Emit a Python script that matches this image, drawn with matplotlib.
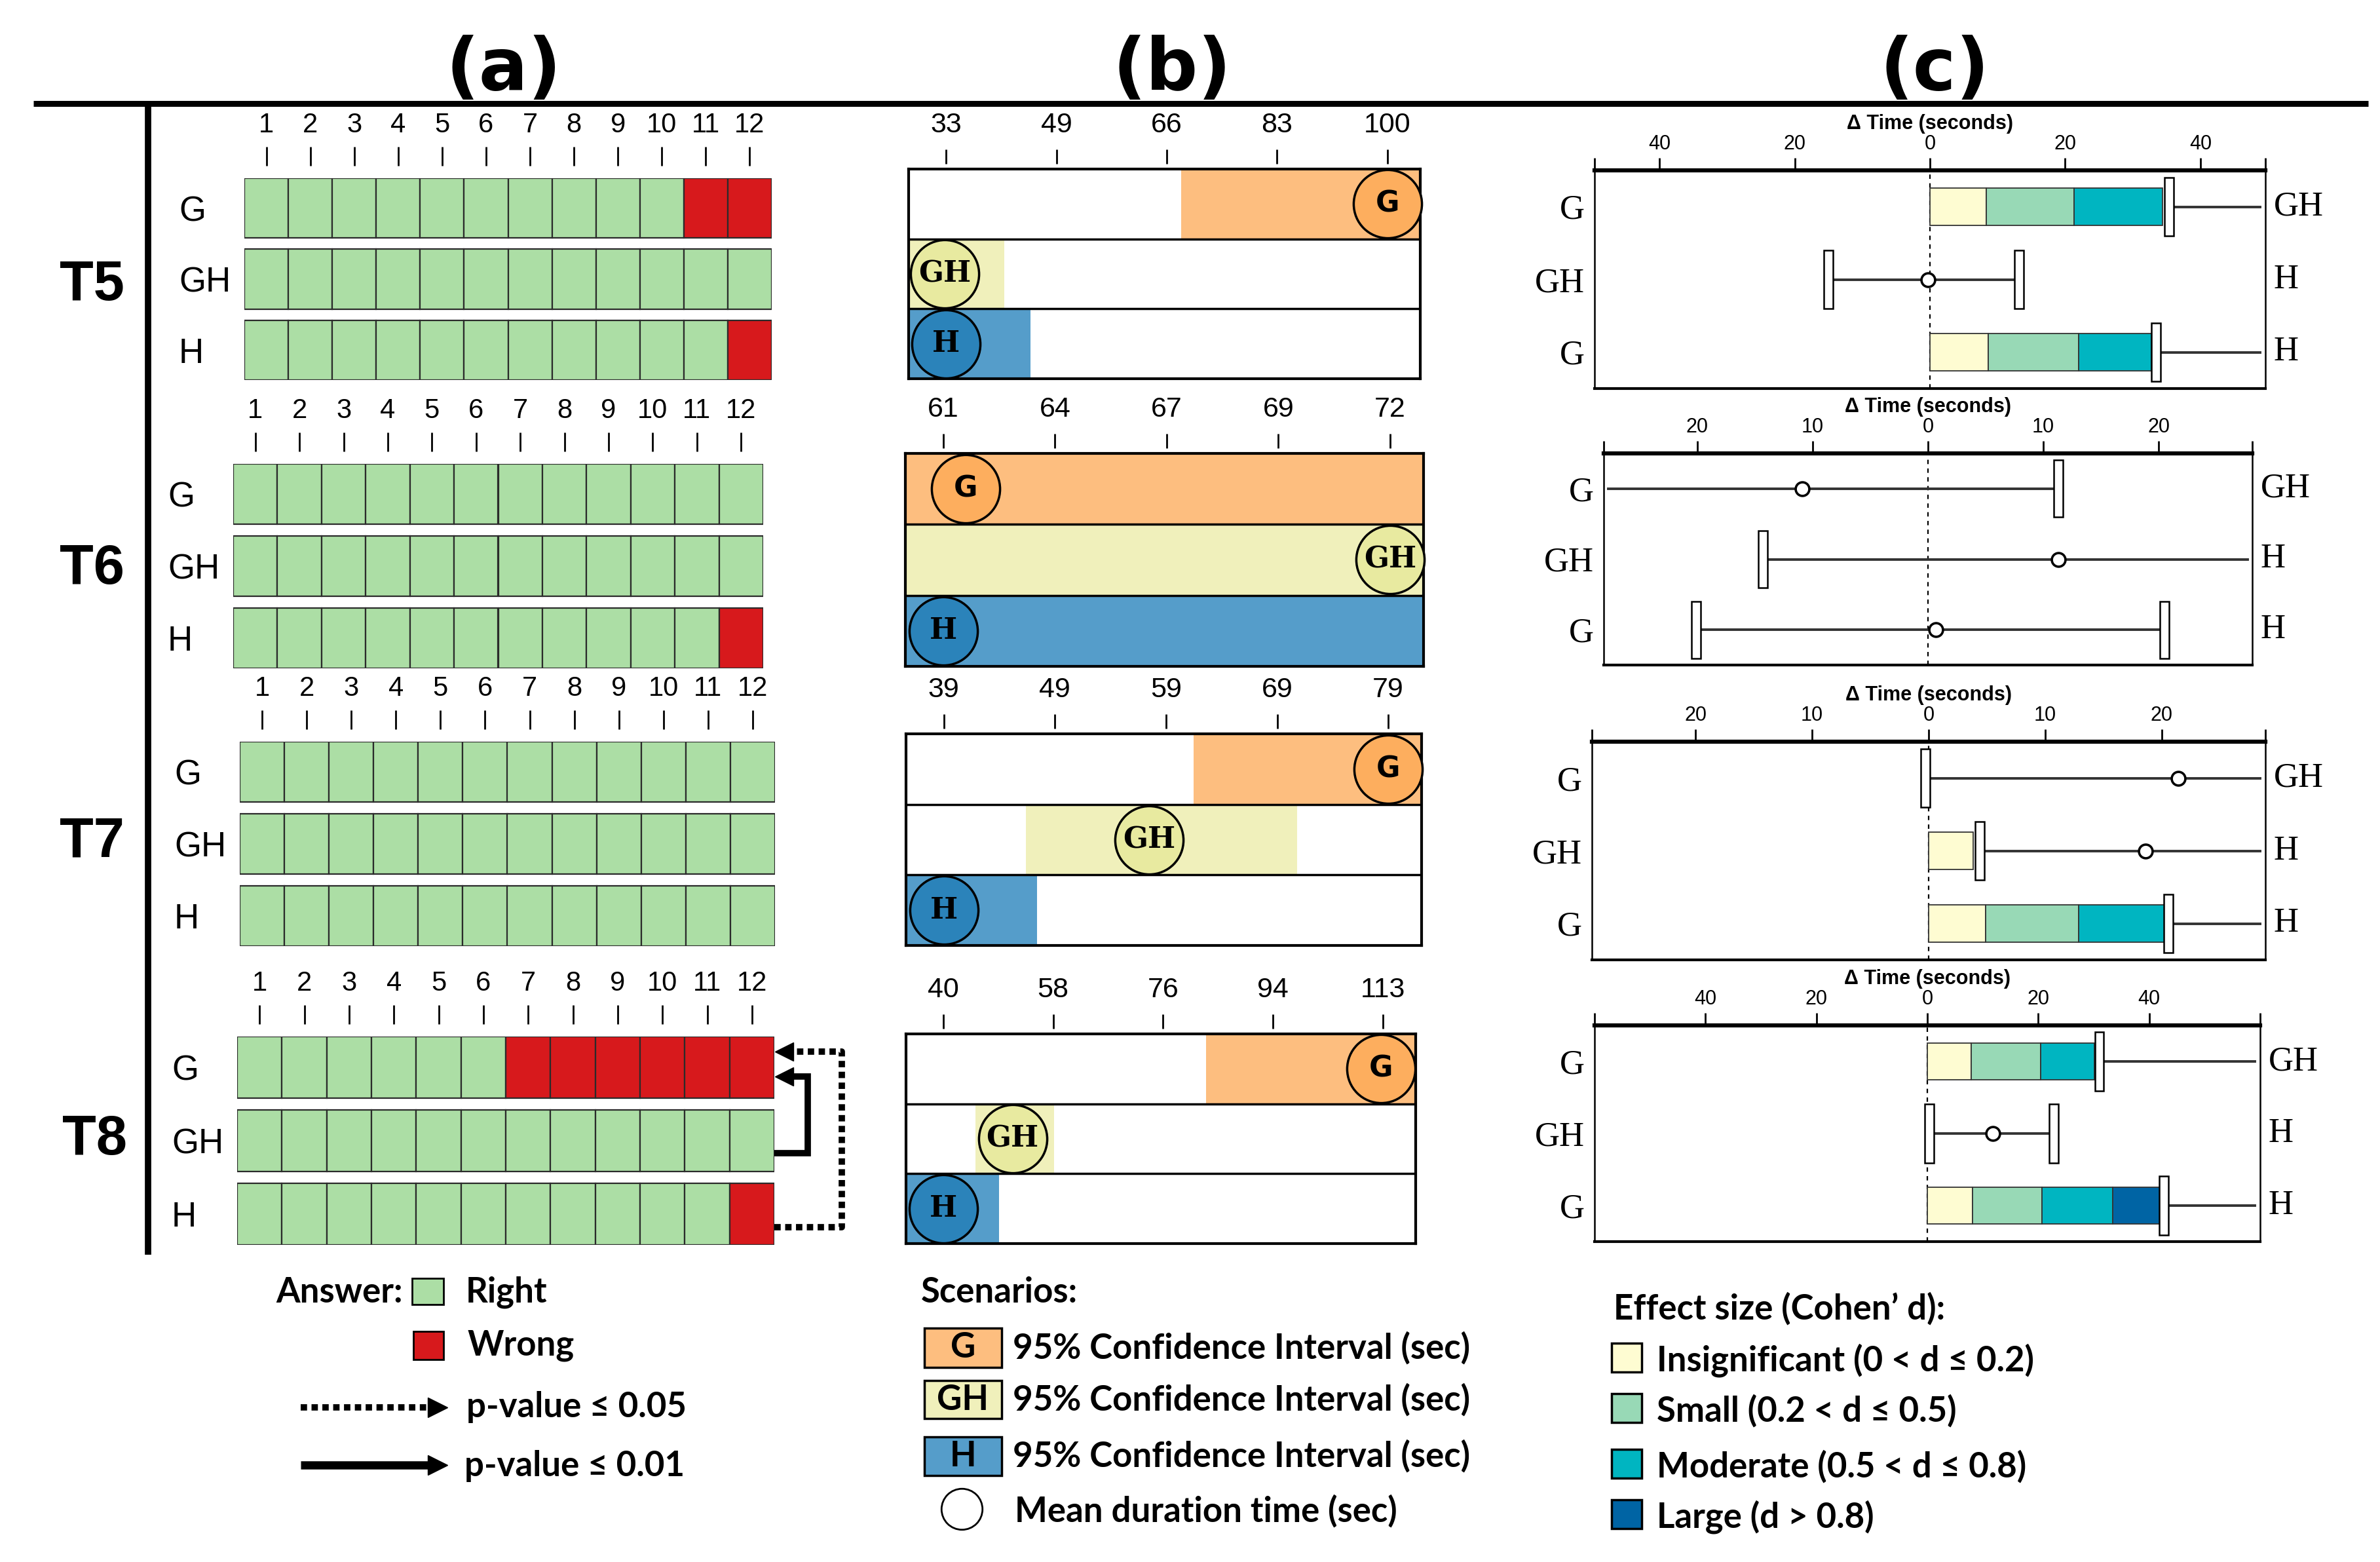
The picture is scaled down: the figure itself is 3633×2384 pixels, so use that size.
import numpy as np
import matplotlib
matplotlib.use('Agg')
import matplotlib.pyplot as plt
from matplotlib.patches import Rectangle

plt.rcParams['font.family'] = ['Liberation Sans', 'DejaVu Sans']

W, H = 3633, 2384
DPI = 100

# ---------------- data ----------------
tasks = ['T5', 'T6', 'T7', 'T8']
scenarios = ['G', 'GH', 'H']
questions = list(range(1, 13))

# (a) questions answered wrong, per scenario row
wrong_t5 = [[11, 12], [], [12]]
wrong_t6 = [[], [], [12]]
wrong_t7 = [[], [], []]
wrong_t8 = [[7, 8, 9, 10, 11, 12], [], [12]]

# (b) duration: 95% CI and mean (sec), per scenario row
b_tick_lo = [33, 61, 39, 40]
b_tick_hi = [100, 72, 79, 113]
b_tick_labels = [['33', '49', '66', '83', '100'],
                 ['61', '64', '67', '69', '72'],
                 ['39', '49', '59', '69', '79'],
                 ['40', '58', '76', '94', '113']]
ci_low_t5 = [68.7, 25.0, 25.0]
ci_high_t5 = [106.0, 41.8, 45.8]
mean_time_t5 = [100.0, 32.8, 33.0]
ci_low_t6 = [59.5, 59.5, 59.5]
ci_high_t6 = [73.5, 73.5, 73.5]
mean_time_t6 = [61.55, 72.0, 61.0]
ci_low_t7 = [61.5, 46.4, 35.0]
ci_high_t7 = [83.0, 70.8, 47.4]
mean_time_t7 = [79.0, 57.5, 39.0]
ci_low_t8 = [83.6, 45.3, 33.0]
ci_high_t8 = [119.0, 58.4, 49.3]
mean_time_t8 = [112.7, 51.5, 40.0]

# (c) pairwise time difference (sec): effect-size segment ends, CI bounds, mean
c_lim = [49.6, 28.1, 28.9, 60.0]
c_ticks = [[-40, -20, 0, 20, 40], [-20, -10, 0, 10, 20],
           [-20, -10, 0, 10, 20], [-40, -20, 0, 20, 40]]
pair_left = ['G', 'GH', 'G']
pair_right = ['GH', 'H', 'H']
effect_t5 = [[8.3, 21.3, 34.4], [], [8.6, 22.0, 32.7]]
diff_low_t5 = [35.4, -15.0, 33.4]
diff_high_t5 = [np.inf, 13.2, np.inf]
diff_mean_t5 = [np.nan, -0.3, np.nan]
effect_t6 = [[], [], []]
diff_low_t6 = [-np.inf, -14.3, -20.1]
diff_high_t6 = [11.3, np.inf, 20.5]
diff_mean_t6 = [-10.9, 11.3, 0.7]
effect_t7 = [[], [3.8], [4.9, 12.9, 20.3]]
diff_low_t7 = [-0.3, 4.4, 20.6]
diff_high_t7 = [np.inf, np.inf, np.inf]
diff_mean_t7 = [21.4, 18.6, np.nan]
effect_t8 = [[7.9, 20.4, 30.1], [], [8.2, 20.7, 33.4, 41.9]]
diff_low_t8 = [31.0, 0.4, 42.6]
diff_high_t8 = [np.inf, 22.8, np.inf]
diff_mean_t8 = [np.nan, 11.8, np.nan]

effect_names = ['Insignificant (0 < d \u2264 0.2)', 'Small (0.2 < d \u2264 0.5)',
                'Moderate (0.5 < d \u2264 0.8)', 'Large (d > 0.8)']

wrong_all = [wrong_t5, wrong_t6, wrong_t7, wrong_t8]
ci_low_all = [ci_low_t5, ci_low_t6, ci_low_t7, ci_low_t8]
ci_high_all = [ci_high_t5, ci_high_t6, ci_high_t7, ci_high_t8]
mean_all = [mean_time_t5, mean_time_t6, mean_time_t7, mean_time_t8]
effect_all = [effect_t5, effect_t6, effect_t7, effect_t8]
dlow_all = [diff_low_t5, diff_low_t6, diff_low_t7, diff_low_t8]
dhigh_all = [diff_high_t5, diff_high_t6, diff_high_t7, diff_high_t8]
dmean_all = [diff_mean_t5, diff_mean_t6, diff_mean_t7, diff_mean_t8]

# ---------------- style ----------------
GREEN, RED = '#acdea5', '#d7191c'
CI_COLORS = ['#fdbe7f', '#f0f0bb', '#559dca']
MEAN_COLORS = ['#fdae5e', '#e8eaa0', '#2b83ba']
MEAN_FONTS = ['DejaVu Sans', 'DejaVu Serif', 'DejaVu Serif']
EFFECT_COLORS = ['#fefcd2', '#98d9b6', '#00b5c1', '#0064a4']
LEG_FONT = ['Lato', 'DejaVu Sans']
LEG_SIZE = 38

a_boxes = [(373, 272, 1178, 580), (356, 708, 1165, 1020),
           (366, 1132, 1183, 1444), (362, 1582, 1182, 1900)]
b_boxes = [(1387, 258, 2168, 578), (1382, 692, 2173, 1017),
           (1383, 1120, 2170, 1443), (1383, 1578, 2161, 1898)]
c_boxes = [(2434, 260, 3458, 593), (2448, 692, 3438, 1015),
           (2430, 1132, 3458, 1465), (2434, 1565, 3450, 1895)]
task_label_pos = [(140, 436), (140, 869), (140, 1286), (144, 1740)]

fig = plt.figure(figsize=(W / DPI, H / DPI), dpi=DPI)

# overlay in pixel coordinates for rules, titles and legends
ov = fig.add_axes([0, 0, 1, 1])
ov.set_xlim(0, W)
ov.set_ylim(H, 0)
ov.axis('off')


def px_axes(box):
    x0, y0, x1, y1 = box
    return fig.add_axes([x0 / W, 1 - y1 / H, (x1 - x0) / W, (y1 - y0) / H])


ov.plot([51, 3615], [158, 158], color='black', lw=6.5, solid_capstyle='butt')
ov.plot([226, 226], [158, 1915], color='black', lw=7, solid_capstyle='butt')
for label, xc in zip(['(a)', '(b)', '(c)'], [769, 1789, 2953]):
    ov.text(xc, 160, label, ha='center', va='bottom', fontsize=80,
            fontweight='bold', family='DejaVu Sans')
for t, (tx, ty) in zip(tasks, task_label_pos):
    ov.text(tx, ty, t, ha='center', va='center', fontsize=61, fontweight='bold')

# ---------------- (a) answers ----------------
a_axes = []
for i, box in enumerate(a_boxes):
    ax = px_axes(box)
    a_axes.append(ax)
    ax.spines['top'].set_position(('outward', 14))
    q = np.array(questions)
    for r in range(len(scenarios)):
        colors = [RED if k in wrong_all[i][r] else GREEN for k in questions]
        ax.barh(np.full(len(q), r), np.ones(len(q)), left=q - 0.5, height=0.84,
                color=colors, edgecolor='#2b2b2b', linewidth=1.6)
    ax.set_xlim(0.5, 12.5)
    ax.set_ylim(2.42, -0.42)
    ax.xaxis.tick_top()
    ax.set_xticks(questions)
    ax.set_xticklabels([str(k) for k in questions])
    ax.tick_params(axis='x', length=21, width=2, pad=9, labelsize=30)
    ax.set_yticks(range(3))
    ax.set_yticklabels(scenarios)
    ax.tick_params(axis='y', length=0, pad=72, labelsize=38)
    for lbl in ax.get_yticklabels():
        lbl.set_ha('left')
    for sp in ax.spines.values():
        sp.set_visible(False)
    ax.patch.set_alpha(0)

# significance arrows on T8 (H -> G dotted, GH -> G solid)
ax8 = a_axes[3]
ax8.plot([12.5, 14.0, 14.0, 12.85], [2.18, 2.18, -0.215, -0.215], color='black',
         lw=7, ls=(0, (1.0, 0.7)), clip_on=False, solid_capstyle='butt')
ax8.plot([12.72], [-0.215], marker='<', ms=20, color='black', clip_on=False)
ax8.plot([12.5, 13.25, 13.25, 12.85], [1.17, 1.17, 0.125, 0.125], color='black',
         lw=7, clip_on=False, solid_capstyle='butt', solid_joinstyle='miter')
ax8.plot([12.72], [0.125], marker='<', ms=20, color='black', clip_on=False)

# ---------------- (b) duration CI ----------------
for i, box in enumerate(b_boxes):
    ax = px_axes(box)
    ax.spines['top'].set_position(('outward', 6))
    lo, hi = b_tick_lo[i], b_tick_hi[i]
    step = (hi - lo) / 4
    ax.set_xlim(lo - 0.34 * step, lo + 4.3 * step)
    ax.set_ylim(2.5, -0.5)
    rows = np.arange(3)
    ax.barh(rows, np.array(ci_high_all[i]) - np.array(ci_low_all[i]),
            left=ci_low_all[i], height=1.0, color=CI_COLORS, linewidth=0, zorder=1)
    for yb in (0.5, 1.5):
        ax.axhline(yb, color='black', lw=2.5, zorder=2)
    ax.axhline(-0.5, color='black', lw=3, zorder=2, clip_on=False)
    for r in rows:
        ax.plot(mean_all[i][r], r, 'o', ms=75, mfc=MEAN_COLORS[r], mec='black',
                mew=2.5, zorder=3, clip_on=False)
        ax.text(mean_all[i][r], r, scenarios[r], ha='center', va='center',
                fontsize=32, fontweight='bold', family=MEAN_FONTS[r], zorder=4)
    ax.xaxis.tick_top()
    ax.set_xticks(np.linspace(lo, hi, 5))
    ax.set_xticklabels(b_tick_labels[i])
    ax.tick_params(axis='x', length=16, width=2, pad=12, labelsize=31)
    ax.spines['top'].set_visible(False)
    for s in ('left', 'right', 'bottom'):
        ax.spines[s].set_linewidth(3)
    ax.set_yticks([])

# ---------------- (c) pairwise differences ----------------
for i, box in enumerate(c_boxes):
    ax = px_axes(box)
    lim = c_lim[i]
    ax.set_xlim(-lim, lim)
    ax.set_ylim(2.5, -0.5)
    ax.axvline(0, color='black', lw=1.6, ls=(0, (3, 3)), zorder=1)
    cap_w = 0.0137 * 2 * lim
    for r in range(3):
        edges = [0.0] + effect_all[i][r]
        for k in range(len(edges) - 1):
            ax.barh(r, edges[k + 1] - edges[k], left=edges[k], height=0.51,
                    color=EFFECT_COLORS[k], edgecolor='#333333', linewidth=1.3, zorder=2)
        a = np.clip(dlow_all[i][r], -0.985 * lim, 0.985 * lim)
        b = np.clip(dhigh_all[i][r], -0.985 * lim, 0.985 * lim)
        ax.plot([a, b], [r, r], color='#333333', lw=2.8, zorder=3)
        for v in (dlow_all[i][r], dhigh_all[i][r]):
            if np.isfinite(v) and abs(v) < lim:
                ax.barh(r, cap_w, left=v - cap_w / 2, height=0.81, color='white',
                        edgecolor='black', linewidth=1.8, zorder=4)
        m = dmean_all[i][r]
        if np.isfinite(m):
            ax.plot(m, r, 'o', ms=15, mfc='white', mec='black', mew=2.6, zorder=5)
        ax.annotate(pair_right[r], xy=(1, r), xycoords=('axes fraction', 'data'),
                    xytext=(9, 0), textcoords='offset points', ha='left',
                    va='center', fontsize=38, family='Liberation Serif')
    ax.xaxis.tick_top()
    ticks = c_ticks[i] + [-lim, lim]
    ax.set_xticks(ticks)
    ax.set_xticklabels([str(abs(t)) for t in c_ticks[i]] + ['', ''])
    ax.tick_params(axis='x', length=14, width=2, pad=4, labelsize=22)
    ax.set_title('\u0394 Time (seconds)', fontsize=22, fontweight='bold', pad=6)
    ax.set_yticks(range(3))
    ax.set_yticklabels(pair_left, fontsize=38, family='Liberation Serif')
    ax.tick_params(axis='y', length=0, pad=11)
    ax.spines['top'].set_linewidth(4.5)
    ax.spines['bottom'].set_linewidth(3)
    ax.spines['left'].set_linewidth(1.8)
    ax.spines['right'].set_linewidth(1.8)

# ---------------- legends ----------------
ov.text(421, 1972, 'Answer:', ha='left', va='center', fontsize=LEG_SIZE,
        fontweight='bold', family=LEG_FONT)
ov.add_patch(Rectangle((629, 1951), 48, 40, facecolor=GREEN, edgecolor='black', lw=2))
ov.text(711, 1972, 'Right', ha='left', va='center', fontsize=LEG_SIZE,
        fontweight='bold', family=LEG_FONT)
ov.add_patch(Rectangle((631, 2032), 46, 43, facecolor=RED, edgecolor='black', lw=2))
ov.text(714, 2054, 'Wrong', ha='left', va='center', fontsize=LEG_SIZE,
        fontweight='bold', family=LEG_FONT)
ov.plot([459, 655], [2148, 2148], color='black', lw=7, ls=(0, (1.0, 0.7)),
        solid_capstyle='butt')
ov.plot([668], [2148], marker='>', ms=22, color='black')
ov.text(712, 2147, 'p-value \u2264 0.05', ha='left', va='center', fontsize=LEG_SIZE,
        fontweight='bold', family=LEG_FONT)
ov.plot([459, 655], [2236, 2236], color='black', lw=9, solid_capstyle='butt')
ov.plot([668], [2236], marker='>', ms=22, color='black')
ov.text(709, 2237, 'p-value \u2264 0.01', ha='left', va='center', fontsize=LEG_SIZE,
        fontweight='bold', family=LEG_FONT)

ov.text(1406, 1972, 'Scenarios:', ha='left', va='center', fontsize=LEG_SIZE,
        fontweight='bold', family=LEG_FONT)
leg_box_y = [(2027, 2087), (2107, 2165), (2193, 2252)]
for r, (y0, y1) in enumerate(leg_box_y):
    ov.add_patch(Rectangle((1411, y0), 118, y1 - y0, facecolor=CI_COLORS[r],
                           edgecolor='black', lw=2.5))
    ov.text(1470, (y0 + y1) / 2, scenarios[r], ha='center', va='center',
            fontsize=LEG_SIZE, fontweight='bold', family=LEG_FONT)
    ov.text(1546, (y0 + y1) / 2, '95% Confidence Interval (sec)', ha='left',
            va='center', fontsize=LEG_SIZE, fontweight='bold', family=LEG_FONT)
ov.plot([1468], [2303], 'o', ms=45, mfc='white', mec='black', mew=2)
ov.text(1549, 2306, 'Mean duration time (sec)', ha='left', va='center',
        fontsize=LEG_SIZE, fontweight='bold', family=LEG_FONT)

ov.text(2463, 1997, 'Effect size (Cohen\u2019 d):', ha='left', va='center',
        fontsize=LEG_SIZE, fontweight='bold', family=LEG_FONT)
eff_y = [2072, 2149, 2234, 2311]
for k, (name, yc) in enumerate(zip(effect_names, eff_y)):
    ov.add_patch(Rectangle((2460, yc - 22), 46, 44, facecolor=EFFECT_COLORS[k],
                           edgecolor='black', lw=2.5))
    ov.text(2529, yc + 4, name, ha='left', va='center', fontsize=LEG_SIZE,
            fontweight='bold', family=LEG_FONT)

fig.savefig('out.png', dpi=DPI)
